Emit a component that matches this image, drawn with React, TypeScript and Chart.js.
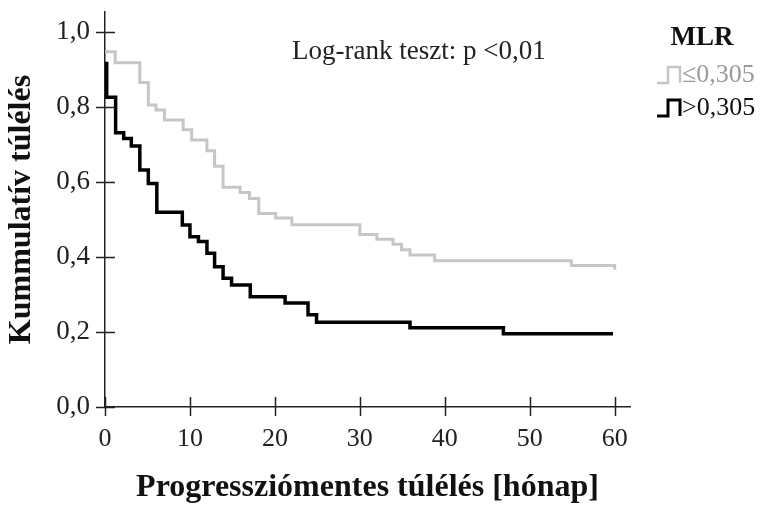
import React, { useEffect, useRef } from "react";
import { Chart, registerables } from "chart.js";

Chart.register(...registerables);

// Kaplan-Meier step data (time in months, cumulative survival)
const lowTimes = [0, 1.2, 4.1, 5.1, 6.0, 7.0, 9.2, 10.2, 12.0, 12.9, 13.9, 15.9, 17.0, 18.1, 20.1, 22.0, 30.0, 32.0, 33.9, 34.9, 35.9, 38.8, 54.9, 59.8, 60];
const lowSurv = [0.947, 0.918, 0.865, 0.805, 0.792, 0.765, 0.739, 0.712, 0.683, 0.642, 0.586, 0.572, 0.556, 0.516, 0.504, 0.486, 0.46, 0.447, 0.434, 0.419, 0.405, 0.39, 0.377, 0.377, 0.366];

const highTimes = [0, 0.2, 1.25, 2.2, 3.1, 4.1, 5.1, 6.1, 9.1, 10.0, 11.0, 12.0, 12.9, 13.9, 14.9, 17.1, 21.2, 23.9, 24.9, 35.9, 46.9, 59.8];
const highSurv = [0.916, 0.826, 0.731, 0.716, 0.696, 0.632, 0.596, 0.519, 0.485, 0.454, 0.441, 0.41, 0.374, 0.343, 0.325, 0.294, 0.277, 0.246, 0.226, 0.211, 0.195, 0.195];

const xTicks = [0, 10, 20, 30, 40, 50, 60];
const yTicks = [0, 0.2, 0.4, 0.6, 0.8, 1.0];

const legendTitle = "MLR";
const seriesLabels = ["≤0,305", ">0,305"];
const seriesColors = ["#c6c6c6", "#000000"];
const annotationText = "Log-rank teszt: p <0,01";
const xTitle = "Progressziómentes túlélés [hónap]";
const yTitle = "Kummulatív túlélés";

const FONT = '"Liberation Serif", "Times New Roman", serif';

const crossTicks = {
  id: "crossTicks",
  afterDraw(chart: any) {
    const ctx = chart.ctx;
    const xs = chart.scales.x;
    const ys = chart.scales.y;
    const area = chart.chartArea;
    ctx.save();
    ctx.strokeStyle = "#222";
    ctx.lineWidth = 1.5;
    ctx.beginPath();
    yTicks.forEach((v) => {
      const py = Math.round(ys.getPixelForValue(v)) + 0.5;
      ctx.moveTo(area.left - 9, py);
      ctx.lineTo(area.left + 10, py);
    });
    xTicks.forEach((v) => {
      const px = Math.round(xs.getPixelForValue(v)) + 0.5;
      ctx.moveTo(px, area.bottom - 10);
      ctx.lineTo(px, area.bottom + 9);
    });
    ctx.stroke();

    // annotation
    ctx.fillStyle = "#222";
    ctx.font = `27px ${FONT}`;
    ctx.textBaseline = "middle";
    ctx.textAlign = "left";
    ctx.fillText(annotationText, 292, 52);

    // legend
    ctx.font = `bold 27px ${FONT}`;
    ctx.textAlign = "center";
    ctx.fillStyle = "#111";
    ctx.fillText(legendTitle, 702, 38);
    const rows = [75, 108];
    ctx.font = `26px ${FONT}`;
    ctx.textAlign = "left";
    seriesLabels.forEach((lab, i) => {
      const cy = rows[i];
      ctx.strokeStyle = seriesColors[i];
      ctx.lineWidth = i === 0 ? 2.5 : 3;
      ctx.beginPath();
      ctx.moveTo(657, cy + 8);
      ctx.lineTo(668, cy + 8);
      ctx.lineTo(668, cy - 8);
      ctx.lineTo(680, cy - 8);
      ctx.lineTo(680, cy + 8);
      ctx.stroke();
      ctx.fillStyle = i === 0 ? "#9a9a9a" : "#111";
      ctx.fillText(lab, 682, cy);
    });
    ctx.restore();
  },
};

export default function App() {
  const ref = useRef<HTMLCanvasElement>(null);

  useEffect(() => {
    document.body.style.margin = "0";
    const canvas = ref.current;
    if (!canvas) return;
    const toPts = (t: number[], s: number[]) => t.map((x, i) => ({ x, y: s[i] }));
    const chart = new Chart(canvas, {
      type: "line",
      data: {
        datasets: [
          {
            label: seriesLabels[0],
            data: toPts(lowTimes, lowSurv),
            borderColor: seriesColors[0],
            borderWidth: 3,
            stepped: true,
            pointRadius: 0,
            fill: false,
          },
          {
            label: seriesLabels[1],
            data: toPts(highTimes, highSurv),
            borderColor: seriesColors[1],
            borderWidth: 3.5,
            stepped: true,
            pointRadius: 0,
            fill: false,
          },
        ],
      },
      options: {
        animation: false,
        responsive: false,
        devicePixelRatio: 1,
        layout: { padding: { left: 0, right: 141, top: 12, bottom: 0 } },
        plugins: {
          legend: { display: false },
          tooltip: { enabled: false },
        },
        scales: {
          x: {
            type: "linear",
            min: 0,
            max: 61.8,
            afterBuildTicks: (s: any) => {
              s.ticks = xTicks.map((value) => ({ value }));
            },
            afterFit: (s: any) => {
              s.height = 100;
              s.paddingLeft = 0;
              s.paddingRight = 0;
            },
            grid: { display: true, drawOnChartArea: false, drawTicks: false },
            border: { display: true, color: "#222", width: 1.5 },
            ticks: {
              padding: 17,
              color: "#222",
              font: { family: FONT, size: 26 },
              maxRotation: 0,
              callback: (v: any) => String(v),
            },
            title: {
              display: true,
              text: xTitle,
              color: "#111",
              font: { family: FONT, size: 32, weight: "bold" },
              padding: { top: 0, bottom: 0 },
            },
          },
          y: {
            type: "linear",
            min: 0,
            max: 1.053,
            afterBuildTicks: (s: any) => {
              s.ticks = yTicks.map((value) => ({ value }));
            },
            afterFit: (s: any) => {
              s.width = 105;
              s.paddingTop = 0;
              s.paddingBottom = 0;
            },
            grid: { display: true, drawOnChartArea: false, drawTicks: false },
            border: { display: true, color: "#222", width: 1.5 },
            ticks: {
              padding: 15,
              color: "#222",
              font: { family: FONT, size: 27 },
              callback: (v: any) => Number(v).toFixed(1).replace(".", ","),
            },
            title: {
              display: true,
              text: yTitle,
              color: "#111",
              font: { family: FONT, size: 32, weight: "bold" },
              padding: { top: 3, bottom: 0 },
            },
          },
        },
      },
      plugins: [crossTicks],
    });
    return () => chart.destroy();
  }, []);

  return (
    <div style={{ position: "fixed", left: 0, top: 0, width: 771, height: 507, background: "#fff" }}>
      <canvas ref={ref} width={771} height={507} />
    </div>
  );
}
